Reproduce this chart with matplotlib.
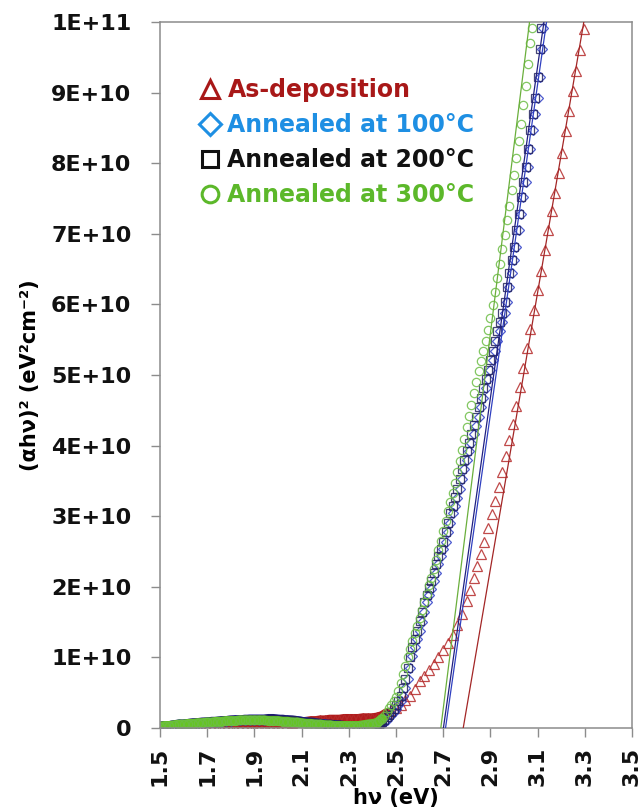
import matplotlib
matplotlib.use("Agg")
import matplotlib.pyplot as plt
from matplotlib.lines import Line2D
import numpy as np


##############################################################################
# Data  (photon energy in eV, (alpha*h*nu)^2 in units of 1E+10 eV^2 cm^-2)

E_LOW = [1.50, 1.52, 1.54, 1.56, 1.58, 1.60, 1.62, 1.64, 1.66, 1.68,
         1.70, 1.72, 1.74, 1.76, 1.78, 1.80, 1.82, 1.84, 1.86, 1.88,
         1.90, 1.92, 1.94, 1.96, 1.98, 2.00, 2.02, 2.04, 2.06, 2.08,
         2.10, 2.12, 2.14, 2.16, 2.18, 2.20, 2.22, 2.24, 2.26, 2.28,
         2.30, 2.32, 2.34, 2.36, 2.38, 2.40]

ASDEP_LOW = [0.00, 0.00, 0.00, 0.00, 0.00, 0.01, 0.01, 0.01, 0.01, 0.01,
             0.01, 0.01, 0.01, 0.01, 0.01, 0.01, 0.02, 0.02, 0.02, 0.02,
             0.02, 0.03, 0.03, 0.03, 0.04, 0.04, 0.05, 0.06, 0.07, 0.08,
             0.08, 0.09, 0.10, 0.10, 0.11, 0.11, 0.12, 0.12, 0.12, 0.13,
             0.13, 0.13, 0.13, 0.14, 0.14, 0.14]
A100_LOW = [0.02, 0.03, 0.03, 0.04, 0.05, 0.05, 0.06, 0.06, 0.07, 0.07,
            0.08, 0.08, 0.09, 0.09, 0.10, 0.10, 0.11, 0.11, 0.11, 0.12,
            0.12, 0.12, 0.12, 0.12, 0.12, 0.12, 0.11, 0.11, 0.10, 0.10,
            0.09, 0.08, 0.07, 0.06, 0.06, 0.05, 0.04, 0.04, 0.03, 0.03,
            0.03, 0.02, 0.02, 0.02, 0.03, 0.03]
A200_LOW = [0.02, 0.03, 0.03, 0.04, 0.05, 0.05, 0.06, 0.07, 0.07, 0.08,
            0.08, 0.09, 0.09, 0.10, 0.10, 0.11, 0.11, 0.11, 0.12, 0.12,
            0.12, 0.12, 0.12, 0.13, 0.13, 0.12, 0.12, 0.11, 0.11, 0.10,
            0.09, 0.08, 0.08, 0.07, 0.06, 0.05, 0.05, 0.04, 0.04, 0.03,
            0.03, 0.03, 0.03, 0.03, 0.03, 0.04]
A300_LOW = [0.02, 0.03, 0.03, 0.04, 0.05, 0.05, 0.06, 0.06, 0.07, 0.07,
            0.08, 0.08, 0.09, 0.09, 0.10, 0.10, 0.10, 0.11, 0.11, 0.11,
            0.11, 0.11, 0.11, 0.10, 0.10, 0.10, 0.09, 0.09, 0.08, 0.08,
            0.07, 0.06, 0.06, 0.05, 0.05, 0.04, 0.04, 0.03, 0.03, 0.03,
            0.03, 0.03, 0.03, 0.04, 0.05, 0.06]

ASDEP_E = [2.42, 2.44, 2.46, 2.48, 2.50, 2.52, 2.54, 2.56, 2.58, 2.60,
           2.62, 2.64, 2.66, 2.68, 2.70, 2.72, 2.74, 2.76, 2.78, 2.80,
           2.815, 2.83, 2.845, 2.86, 2.875, 2.89, 2.905, 2.92, 2.935, 2.95,
           2.965, 2.98, 2.995, 3.01, 3.025, 3.04, 3.055, 3.07, 3.085, 3.10,
           3.115, 3.13, 3.145, 3.16, 3.175, 3.19, 3.205, 3.22, 3.235, 3.25,
           3.265, 3.28, 3.295]
ASDEP_V = [0.15, 0.17, 0.21, 0.25, 0.29, 0.33, 0.39, 0.46, 0.55, 0.66,
           0.74, 0.82, 0.91, 1.00, 1.11, 1.21, 1.32, 1.46, 1.62, 1.80,
           1.95, 2.12, 2.29, 2.46, 2.64, 2.84, 3.03, 3.22, 3.42, 3.63,
           3.85, 4.08, 4.31, 4.56, 4.83, 5.10, 5.38, 5.65, 5.92, 6.20,
           6.48, 6.77, 7.06, 7.32, 7.58, 7.86, 8.15, 8.45, 8.74, 9.02,
           9.30, 9.60, 9.90]

A100_E = [2.42, 2.43, 2.44, 2.45, 2.46, 2.47, 2.48, 2.49, 2.50, 2.51,
          2.52, 2.53, 2.54, 2.55, 2.56, 2.57, 2.58, 2.59, 2.60, 2.61,
          2.62, 2.63, 2.64, 2.65, 2.66, 2.67, 2.68, 2.69, 2.70, 2.71,
          2.72, 2.73, 2.74, 2.75, 2.76, 2.77, 2.78, 2.79, 2.80, 2.81,
          2.82, 2.83, 2.84, 2.85, 2.86, 2.87, 2.88, 2.89, 2.90, 2.91,
          2.92, 2.93, 2.94, 2.95, 2.96, 2.97, 2.98, 2.99, 3.00, 3.01,
          3.02, 3.03, 3.04, 3.05, 3.06, 3.07, 3.08, 3.09, 3.10, 3.11,
          3.12, 3.125]
A100_V = [0.04, 0.05, 0.06, 0.08, 0.11, 0.15, 0.19, 0.23, 0.27, 0.32,
          0.38, 0.46, 0.57, 0.70, 0.85, 1.02, 1.15, 1.26, 1.37, 1.50,
          1.65, 1.78, 1.88, 1.97, 2.08, 2.20, 2.32, 2.43, 2.53, 2.63,
          2.77, 2.91, 3.04, 3.15, 3.26, 3.39, 3.53, 3.67, 3.80, 3.92,
          4.04, 4.16, 4.28, 4.41, 4.55, 4.68, 4.81, 4.94, 5.07, 5.21,
          5.34, 5.48, 5.62, 5.75, 5.88, 6.03, 6.24, 6.45, 6.63, 6.82,
          7.05, 7.28, 7.52, 7.73, 7.95, 8.20, 8.47, 8.70, 8.93, 9.22,
          9.62, 9.92]

A200_E = [2.42, 2.43, 2.44, 2.45, 2.46, 2.47, 2.48, 2.49, 2.50, 2.51,
          2.52, 2.53, 2.54, 2.55, 2.56, 2.57, 2.58, 2.59, 2.60, 2.61,
          2.62, 2.63, 2.64, 2.65, 2.66, 2.67, 2.68, 2.69, 2.70, 2.71,
          2.72, 2.73, 2.74, 2.75, 2.76, 2.77, 2.78, 2.79, 2.80, 2.81,
          2.82, 2.83, 2.84, 2.85, 2.86, 2.87, 2.88, 2.89, 2.90, 2.91,
          2.92, 2.93, 2.94, 2.95, 2.96, 2.97, 2.98, 2.99, 3.00, 3.01,
          3.02, 3.03, 3.04, 3.05, 3.06, 3.07, 3.08, 3.09, 3.10, 3.11,
          3.116]
A200_V = [0.05, 0.06, 0.08, 0.11, 0.15, 0.19, 0.23, 0.27, 0.32, 0.38,
          0.46, 0.57, 0.70, 0.85, 1.01, 1.15, 1.26, 1.38, 1.51, 1.65,
          1.78, 1.88, 1.98, 2.08, 2.20, 2.32, 2.43, 2.53, 2.64, 2.77,
          2.91, 3.04, 3.15, 3.27, 3.39, 3.53, 3.67, 3.80, 3.92, 4.04,
          4.16, 4.29, 4.41, 4.55, 4.68, 4.81, 4.94, 5.07, 5.21, 5.34,
          5.48, 5.62, 5.75, 5.88, 6.03, 6.24, 6.45, 6.63, 6.82, 7.05,
          7.28, 7.52, 7.73, 7.95, 8.20, 8.47, 8.70, 8.93, 9.22, 9.62,
          9.92]

A300_E = [2.42, 2.43, 2.44, 2.45, 2.46, 2.47, 2.48, 2.49, 2.50, 2.51,
          2.52, 2.53, 2.54, 2.55, 2.56, 2.57, 2.58, 2.59, 2.60, 2.61,
          2.62, 2.63, 2.64, 2.65, 2.66, 2.67, 2.68, 2.69, 2.70, 2.71,
          2.72, 2.73, 2.74, 2.75, 2.76, 2.77, 2.78, 2.79, 2.80, 2.81,
          2.82, 2.83, 2.84, 2.85, 2.86, 2.87, 2.88, 2.89, 2.90, 2.91,
          2.92, 2.93, 2.94, 2.95, 2.96, 2.97, 2.98, 2.99, 3.00, 3.01,
          3.02, 3.03, 3.04, 3.05, 3.06, 3.07, 3.076]
A300_V = [0.07, 0.10, 0.13, 0.17, 0.22, 0.28, 0.33, 0.38, 0.44, 0.53,
          0.64, 0.76, 0.88, 1.00, 1.12, 1.23, 1.34, 1.45, 1.56, 1.67,
          1.79, 1.90, 2.02, 2.13, 2.25, 2.38, 2.52, 2.65, 2.79, 2.93,
          3.07, 3.20, 3.33, 3.47, 3.62, 3.78, 3.94, 4.10, 4.26, 4.42,
          4.58, 4.74, 4.90, 5.05, 5.20, 5.34, 5.48, 5.64, 5.81, 5.99,
          6.17, 6.37, 6.57, 6.78, 6.98, 7.19, 7.40, 7.62, 7.84, 8.07,
          8.31, 8.56, 8.82, 9.10, 9.40, 9.70, 9.92]

# Linear extrapolation lines: energy at zero and at 1E+11
FIT_E0 = [2.785, 2.710, 2.701, 2.690]
FIT_E1 = [3.296, 3.138, 3.127, 3.066]
FIT_V = [0.0, 10.0]

LABELS = ["As-deposition", "Annealed at 100\u00b0C",
          "Annealed at 200\u00b0C", "Annealed at 300\u00b0C"]

X_TICKS = [1.5, 1.7, 1.9, 2.1, 2.3, 2.5, 2.7, 2.9, 3.1, 3.3, 3.5]
Y_TICKS = [0, 1, 2, 3, 4, 5, 6, 7, 8, 9, 10]
Y_TICK_LABELS = ["0", "1E+10", "2E+10", "3E+10", "4E+10", "5E+10",
                 "6E+10", "7E+10", "8E+10", "9E+10", "1E+11"]


##############################################################################
# Styles

MARKERS = ["^", "D", "s", "o"]
MARKER_SIZES = [6.5, 5.0, 5.5, 6.0]
MARKER_COLORS = ["#b52a2a", "#2f3fc8", "#24245e", "#6cbd45"]
BAND_COLORS = ["#b01c1c", "#2a2ab0", "#1c1c78", "#66c424"]
LINE_COLORS = ["#a32626", "#3040c0", "#202080", "#6aaf3c"]
LEGEND_COLORS = ["#a81818", "#1e8fe3", "#111111", "#5cb82a"]

plt.rcParams["font.family"] = ["DejaVu Sans"]
plt.rcParams["font.weight"] = "bold"

GRAY = "#8c8c8c"


##############################################################################
# Plotting

fig = plt.figure(figsize=(6.44, 8.09), dpi=100)
ax = fig.add_axes([0.2484, 0.1001, 0.7329, 0.8727])

lows = [ASDEP_LOW, A100_LOW, A200_LOW, A300_LOW]
rises = [(ASDEP_E, ASDEP_V), (A100_E, A100_V), (A200_E, A200_V),
         (A300_E, A300_V)]

for i, (low, (e, v)) in enumerate(zip(lows, rises)):
    e_all = np.array(E_LOW + e)
    v_all = np.array(low + v) * 1e10
    # dense points below the edge merge into a solid band
    ax.plot(E_LOW + e[:3], v_all[:len(E_LOW) + 3], color=BAND_COLORS[i],
            lw=7, solid_capstyle="round", zorder=2 + 0.1 * i)
    ax.plot(e_all, v_all, ls="none", marker=MARKERS[i], ms=MARKER_SIZES[i],
            mfc="none", mec=MARKER_COLORS[i], mew=0.9, alpha=0.85,
            zorder=2 + 0.1 * i)

for e0, e1, c in zip(FIT_E0, FIT_E1, LINE_COLORS):
    ax.plot([e0, e1], np.array(FIT_V) * 1e10, color=c, lw=0.9, zorder=3)

ax.set_xlim(1.5, 3.5)
ax.set_ylim(0, 1e11)
ax.set_xticks(X_TICKS)
ax.set_xticklabels([f"{t:.1f}" for t in X_TICKS], rotation=90,
                   fontsize=16, fontweight="bold")
ax.set_yticks(np.array(Y_TICKS) * 1e10)
ax.set_yticklabels(Y_TICK_LABELS, fontsize=16, fontweight="bold")

ax.tick_params(axis="both", direction="out", length=6.5, width=1.0,
               color=GRAY, labelcolor="#111111")
ax.tick_params(axis="y", pad=14)
ax.tick_params(axis="x", pad=7)

for sp in ax.spines.values():
    sp.set_color(GRAY)
    sp.set_linewidth(1.1)

ax.set_ylabel("(\u03b1h\u03bd)\u00b2 (eV\u00b2cm\u207b\u00b2)", fontsize=15,
              fontweight="bold", labelpad=8)
ax.set_xlabel("h\u03bd (eV)", fontsize=15, fontweight="bold", labelpad=1)

handles = [Line2D([], [], ls="none", marker=m, ms=ms, mfc="none", mec=c,
                  mew=2.2)
           for m, ms, c in zip(MARKERS, [13, 11, 12, 12], LEGEND_COLORS)]
leg = ax.legend(handles, LABELS, loc="upper left",
                bbox_to_anchor=(0.083, 0.92), frameon=False,
                prop={"size": 17, "weight": "bold"}, labelcolor=LEGEND_COLORS,
                handlelength=0.9, handletextpad=0.3, labelspacing=0.46,
                borderpad=0, borderaxespad=0)

fig.savefig("out.png", dpi=100)
